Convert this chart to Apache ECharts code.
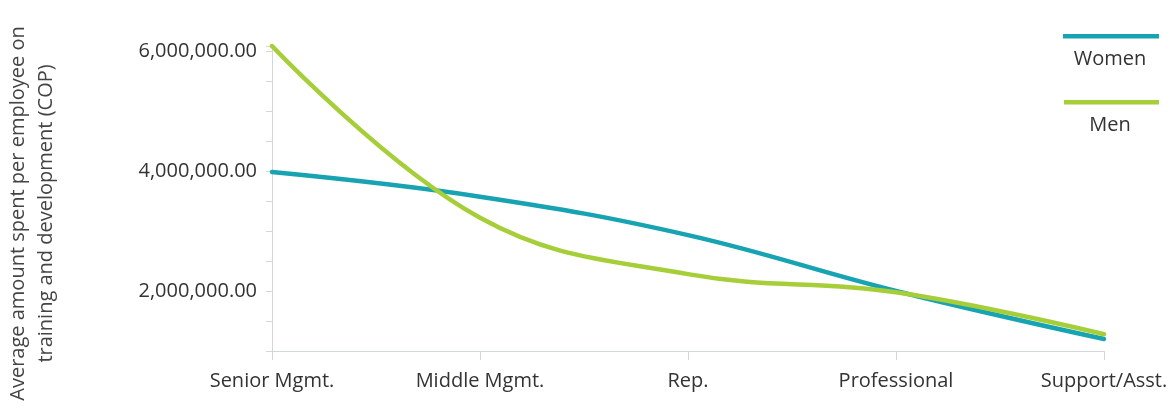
<!DOCTYPE html>
<html>
<head>
<meta charset="utf-8">
<script src="https://cdn.jsdelivr.net/npm/echarts@6/dist/echarts.min.js"></script>
<style>
html,body{margin:0;padding:0;background:#fff;}
#chart{width:1175px;height:409px;}
</style>
</head>
<body>
<div id="chart"></div>
<script>
const categories = ['Senior Mgmt.', 'Middle Mgmt.', 'Rep.', 'Professional', 'Support/Asst.'];
const women = [3980000, 3570000, 2930000, 2000000, 1200000];
const men = [6080000, 3220000, 2280000, 1980000, 1280000];
const yTickValues = [2000000, 4000000, 6000000];
const yTickLabels = ['2,000,000.00', '4,000,000.00', '6,000,000.00'];
const seriesNames = ['Women', 'Men'];
const yAxisTitle = 'Average amount spent per employee on\ntraining and development (COP)';

const colors = ['#17a3b1', '#a6ce39'];
const font = '"Open Sans", sans-serif';

const chart = echarts.init(document.getElementById('chart'));
chart.setOption({
  animation: false,
  grid: { left: 272, right: 71, top: 46, bottom: 58, containLabel: false, outerBoundsMode: 'none' },
  xAxis: {
    type: 'category',
    data: categories,
    boundaryGap: false,
    axisLine: { lineStyle: { color: '#d3d6db', width: 1 } },
    axisTick: { show: true, length: 9, lineStyle: { color: '#d3d6db' } },
    axisLabel: { color: '#333', fontSize: 20, fontFamily: font, margin: 20 },
    splitLine: { show: false }
  },
  yAxis: {
    type: 'value',
    min: 1000000,
    max: 6080000,
    interval: 500000,
    name: yAxisTitle,
    nameLocation: 'middle',
    nameGap: 212,
    nameRotate: 90,
    nameTextStyle: { color: '#444', fontSize: 20, fontFamily: font, lineHeight: 28, padding: [0, 30, 0, 0] },
    axisLine: { show: true, lineStyle: { color: '#d3d6db', width: 1 } },
    axisTick: { show: true, length: 6, lineStyle: { color: '#d3d6db' } },
    splitLine: { show: false },
    axisLabel: {
      color: '#333', fontSize: 20, fontFamily: font, margin: 15,
      formatter: function (v) {
        const i = yTickValues.indexOf(v);
        return i >= 0 ? yTickLabels[i] : '';
      }
    }
  },
  series: [
    {
      name: seriesNames[0], type: 'line', data: women, smooth: 0.4,
      showSymbol: false, symbol: 'none',
      lineStyle: { color: colors[0], width: 4.5, cap: 'round' }
    },
    {
      name: seriesNames[1], type: 'line', data: men, smooth: 0.4,
      showSymbol: false, symbol: 'none',
      lineStyle: { color: colors[1], width: 4.5, cap: 'round' }
    }
  ],
  graphic: [
    { type: 'rect', left: 1063, top: 34, shape: { width: 96, height: 4.5 }, style: { fill: colors[0] } },
    { type: 'text', x: 1110, y: 59, style: { text: seriesNames[0], fill: '#333', fontSize: 20, fontFamily: font, textAlign: 'center', textVerticalAlign: 'middle' } },
    { type: 'rect', left: 1064, top: 100, shape: { width: 95, height: 4.5 }, style: { fill: colors[1] } },
    { type: 'text', x: 1110, y: 125, style: { text: seriesNames[1], fill: '#333', fontSize: 20, fontFamily: font, textAlign: 'center', textVerticalAlign: 'middle' } }
  ]
});
</script>
</body>
</html>
